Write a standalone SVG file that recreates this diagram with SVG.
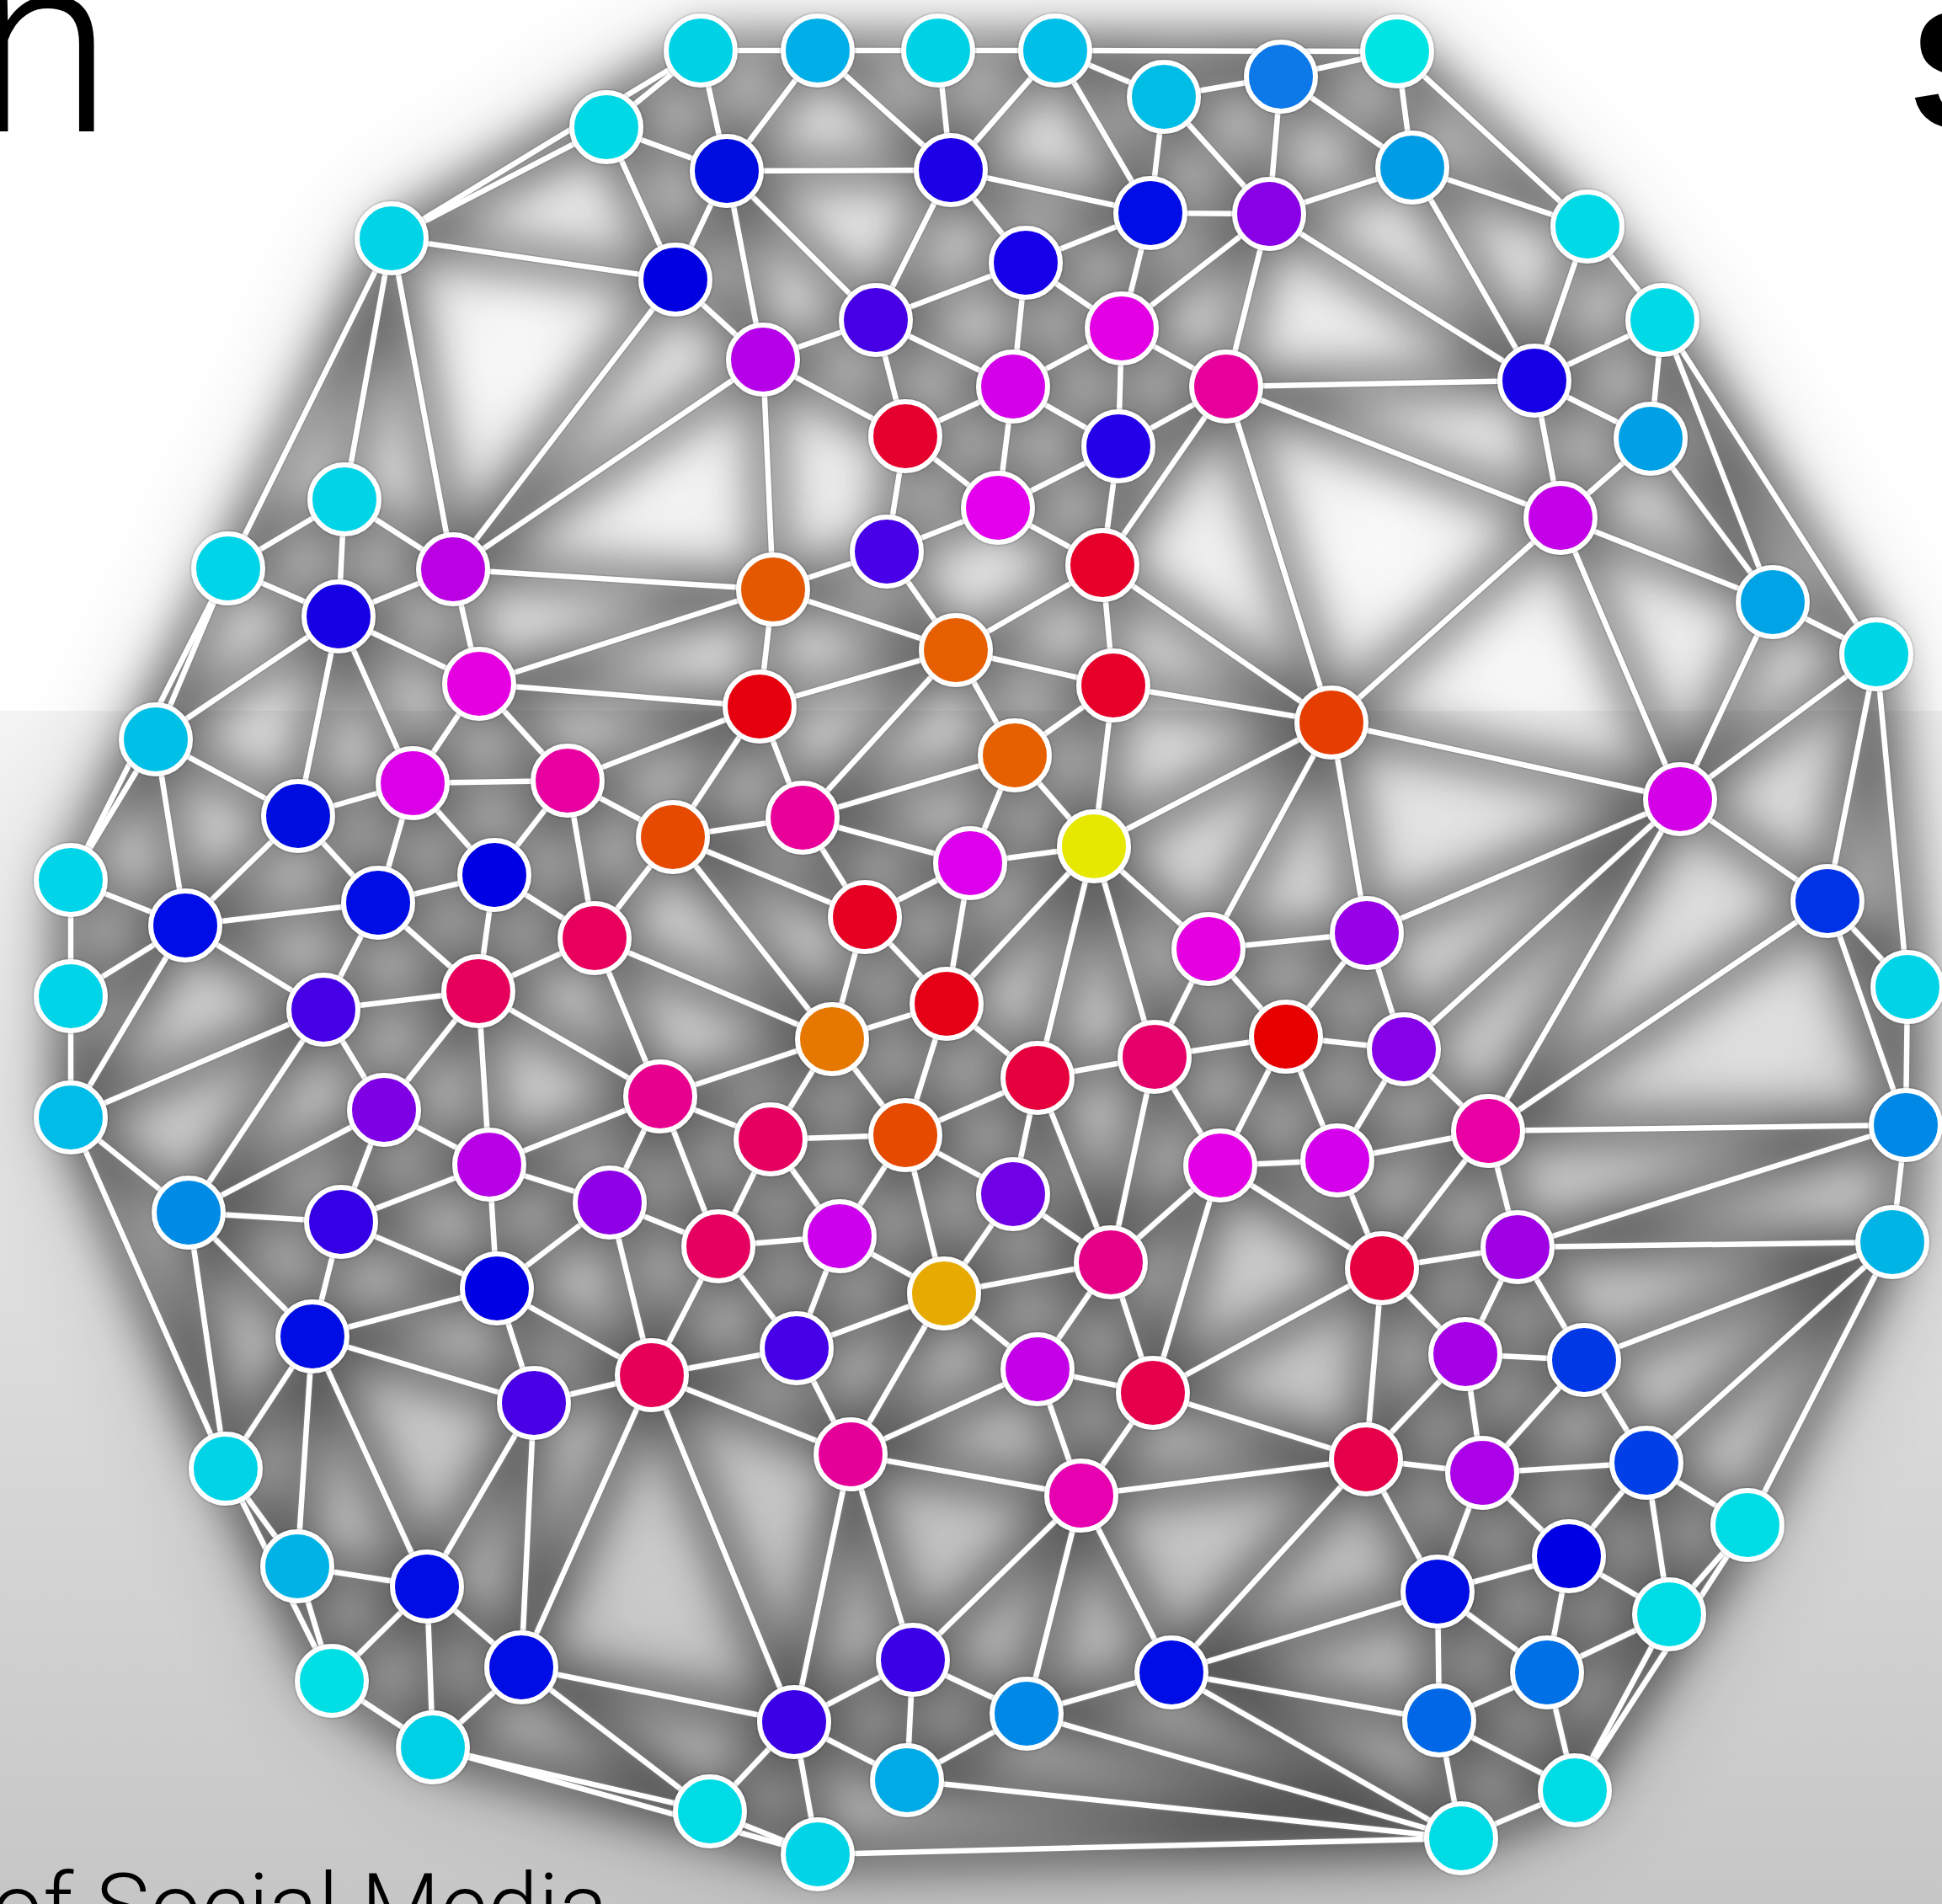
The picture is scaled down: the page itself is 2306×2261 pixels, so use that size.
<svg xmlns="http://www.w3.org/2000/svg" xmlns:xlink="http://www.w3.org/1999/xlink" width="2306" height="2261" viewBox="0 0 2306 2261">
<style>
.title{font-family:"Roboto","Liberation Sans",Arial,sans-serif;font-weight:300;fill:#000}
.titleb{font-family:"Liberation Sans",Arial,sans-serif;font-weight:bold;fill:#000}
.node circle{stroke:#ffffff;stroke-width:6}
</style>
<defs>
<linearGradient id="bg" gradientUnits="userSpaceOnUse" x1="0" y1="844" x2="0" y2="2261">
<stop offset="0" stop-color="#f4f4f4"/>
<stop offset="1" stop-color="#c6c6c6"/>
</linearGradient>
<filter id="blurA" filterUnits="userSpaceOnUse" x="-300" y="-300" width="2906" height="2861"><feGaussianBlur stdDeviation="26"/></filter>
<filter id="blurB" filterUnits="userSpaceOnUse" x="-300" y="-300" width="2906" height="2861"><feGaussianBlur stdDeviation="60"/></filter>
<filter id="ring" x="-20%" y="-20%" width="140%" height="140%">
<feGaussianBlur in="SourceAlpha" stdDeviation="1.6" result="b"/>
<feFlood flood-color="#000" flood-opacity="0.45"/>
<feComposite in2="b" operator="in" result="s"/>
<feMerge><feMergeNode in="s"/><feMergeNode in="SourceGraphic"/></feMerge>
</filter>
</defs>
<rect x="0" y="0" width="2306" height="2261" fill="#ffffff"/>
<rect x="0" y="844" width="2306" height="1417" fill="url(#bg)"/>
<text class="title" x="-31" y="156" font-size="300">n</text>
<text class="titleb" x="2268" y="152" font-size="200">S</text>
<text class="title" x="-10" y="2301" font-size="108" textLength="732" lengthAdjust="spacingAndGlyphs">of Social Media</text>
<g id="shading">
<g filter="url(#blurB)" opacity="0.22" stroke="#000" stroke-width="40" stroke-linecap="round"><use xlink:href="#connectors" href="#connectors"/></g>
<g filter="url(#blurA)" opacity="0.5" stroke="#000" stroke-width="40" stroke-linecap="round"><use xlink:href="#connectors" href="#connectors"/></g>
</g>
<g stroke="#808080" stroke-width="9.5" opacity="0.45" stroke-linecap="round"><use xlink:href="#connectors" href="#connectors"/></g>
<g stroke="#ffffff" stroke-width="6.5" stroke-linecap="round">
<g id="connectors">
<line x1="832" y1="60" x2="971" y2="60"/>
<line x1="971" y1="60" x2="1114" y2="60"/>
<line x1="1114" y1="60" x2="1253" y2="60"/>
<line x1="1253" y1="60" x2="1659" y2="61"/>
<line x1="1253" y1="60" x2="1382" y2="115"/>
<line x1="1521" y1="91" x2="1382" y2="115"/>
<line x1="1659" y1="61" x2="1521" y2="91"/>
<line x1="832" y1="60" x2="720" y2="151"/>
<line x1="720" y1="151" x2="863" y2="203"/>
<line x1="832" y1="60" x2="863" y2="203"/>
<line x1="971" y1="60" x2="863" y2="203"/>
<line x1="971" y1="60" x2="1129" y2="202"/>
<line x1="1114" y1="60" x2="1129" y2="202"/>
<line x1="1253" y1="60" x2="1129" y2="202"/>
<line x1="1253" y1="60" x2="1366" y2="253"/>
<line x1="1382" y1="115" x2="1366" y2="253"/>
<line x1="1382" y1="115" x2="1507" y2="254"/>
<line x1="1521" y1="91" x2="1507" y2="254"/>
<line x1="1366" y1="253" x2="1507" y2="254"/>
<line x1="863" y1="203" x2="1129" y2="202"/>
<line x1="1129" y1="202" x2="1366" y2="253"/>
<line x1="863" y1="203" x2="802" y2="332"/>
<line x1="720" y1="151" x2="802" y2="332"/>
<line x1="465" y1="283" x2="802" y2="332"/>
<line x1="720" y1="151" x2="465" y2="283"/>
<line x1="832" y1="60" x2="465" y2="283"/>
<line x1="863" y1="203" x2="906" y2="427"/>
<line x1="863" y1="203" x2="1040" y2="380"/>
<line x1="1129" y1="202" x2="1040" y2="380"/>
<line x1="1129" y1="202" x2="1218" y2="312"/>
<line x1="1366" y1="253" x2="1218" y2="312"/>
<line x1="1218" y1="312" x2="1040" y2="380"/>
<line x1="802" y1="332" x2="906" y2="427"/>
<line x1="1040" y1="380" x2="906" y2="427"/>
<line x1="1218" y1="312" x2="1203" y2="459"/>
<line x1="1218" y1="312" x2="1332" y2="390"/>
<line x1="1366" y1="253" x2="1332" y2="390"/>
<line x1="1507" y1="254" x2="1332" y2="390"/>
<line x1="1507" y1="254" x2="1456" y2="459"/>
<line x1="1332" y1="390" x2="1456" y2="459"/>
<line x1="1332" y1="390" x2="1203" y2="459"/>
<line x1="1040" y1="380" x2="1075" y2="518"/>
<line x1="1040" y1="380" x2="1203" y2="459"/>
<line x1="906" y1="427" x2="1075" y2="518"/>
<line x1="1203" y1="459" x2="1075" y2="518"/>
<line x1="1332" y1="390" x2="1328" y2="530"/>
<line x1="1203" y1="459" x2="1328" y2="530"/>
<line x1="1456" y1="459" x2="1328" y2="530"/>
<line x1="1203" y1="459" x2="1185" y2="603"/>
<line x1="1075" y1="518" x2="1185" y2="603"/>
<line x1="1328" y1="530" x2="1185" y2="603"/>
<line x1="1075" y1="518" x2="1053" y2="655"/>
<line x1="1185" y1="603" x2="1053" y2="655"/>
<line x1="1328" y1="530" x2="1309" y2="671"/>
<line x1="1185" y1="603" x2="1309" y2="671"/>
<line x1="1456" y1="459" x2="1309" y2="671"/>
<line x1="1456" y1="459" x2="1581" y2="858"/>
<line x1="1456" y1="459" x2="1822" y2="452"/>
<line x1="1456" y1="459" x2="1853" y2="615"/>
<line x1="906" y1="427" x2="918" y2="700"/>
<line x1="906" y1="427" x2="538" y2="676"/>
<line x1="802" y1="332" x2="538" y2="676"/>
<line x1="538" y1="676" x2="918" y2="700"/>
<line x1="918" y1="700" x2="569" y2="812"/>
<line x1="465" y1="283" x2="538" y2="676"/>
<line x1="465" y1="283" x2="409" y2="593"/>
<line x1="465" y1="283" x2="271" y2="675"/>
<line x1="409" y1="593" x2="271" y2="675"/>
<line x1="409" y1="593" x2="402" y2="732"/>
<line x1="409" y1="593" x2="538" y2="676"/>
<line x1="271" y1="675" x2="402" y2="732"/>
<line x1="538" y1="676" x2="402" y2="732"/>
<line x1="538" y1="676" x2="569" y2="812"/>
<line x1="402" y1="732" x2="569" y2="812"/>
<line x1="271" y1="675" x2="185" y2="878"/>
<line x1="271" y1="675" x2="84" y2="1045"/>
<line x1="402" y1="732" x2="185" y2="878"/>
<line x1="402" y1="732" x2="354" y2="969"/>
<line x1="402" y1="732" x2="490" y2="930"/>
<line x1="569" y1="812" x2="490" y2="930"/>
<line x1="569" y1="812" x2="674" y2="927"/>
<line x1="569" y1="812" x2="902" y2="839"/>
<line x1="185" y1="878" x2="354" y2="969"/>
<line x1="185" y1="878" x2="220" y2="1099"/>
<line x1="185" y1="878" x2="84" y2="1045"/>
<line x1="490" y1="930" x2="354" y2="969"/>
<line x1="490" y1="930" x2="587" y2="1039"/>
<line x1="490" y1="930" x2="449" y2="1072"/>
<line x1="490" y1="930" x2="674" y2="927"/>
<line x1="674" y1="927" x2="587" y2="1039"/>
<line x1="674" y1="927" x2="799" y2="994"/>
<line x1="674" y1="927" x2="706" y2="1114"/>
<line x1="354" y1="969" x2="220" y2="1099"/>
<line x1="354" y1="969" x2="449" y2="1072"/>
<line x1="84" y1="1045" x2="220" y2="1099"/>
<line x1="84" y1="1045" x2="84" y2="1183"/>
<line x1="587" y1="1039" x2="449" y2="1072"/>
<line x1="587" y1="1039" x2="706" y2="1114"/>
<line x1="587" y1="1039" x2="568" y2="1177"/>
<line x1="449" y1="1072" x2="568" y2="1177"/>
<line x1="449" y1="1072" x2="384" y2="1199"/>
<line x1="449" y1="1072" x2="220" y2="1099"/>
<line x1="220" y1="1099" x2="384" y2="1199"/>
<line x1="220" y1="1099" x2="84" y2="1183"/>
<line x1="220" y1="1099" x2="84" y2="1327"/>
<line x1="799" y1="994" x2="706" y2="1114"/>
<line x1="706" y1="1114" x2="568" y2="1177"/>
<line x1="706" y1="1114" x2="784" y2="1302"/>
<line x1="568" y1="1177" x2="384" y2="1199"/>
<line x1="568" y1="1177" x2="456" y2="1318"/>
<line x1="568" y1="1177" x2="581" y2="1383"/>
<line x1="568" y1="1177" x2="784" y2="1302"/>
<line x1="84" y1="1183" x2="84" y2="1327"/>
<line x1="384" y1="1199" x2="84" y2="1327"/>
<line x1="384" y1="1199" x2="456" y2="1318"/>
<line x1="384" y1="1199" x2="224" y2="1440"/>
<line x1="456" y1="1318" x2="581" y2="1383"/>
<line x1="456" y1="1318" x2="224" y2="1440"/>
<line x1="456" y1="1318" x2="405" y2="1451"/>
<line x1="84" y1="1327" x2="224" y2="1440"/>
<line x1="84" y1="1327" x2="268" y2="1744"/>
<line x1="784" y1="1302" x2="581" y2="1383"/>
<line x1="784" y1="1302" x2="724" y2="1428"/>
<line x1="581" y1="1383" x2="724" y2="1428"/>
<line x1="581" y1="1383" x2="405" y2="1451"/>
<line x1="581" y1="1383" x2="590" y2="1530"/>
<line x1="224" y1="1440" x2="405" y2="1451"/>
<line x1="224" y1="1440" x2="371" y2="1587"/>
<line x1="224" y1="1440" x2="268" y2="1744"/>
<line x1="405" y1="1451" x2="590" y2="1530"/>
<line x1="405" y1="1451" x2="371" y2="1587"/>
<line x1="724" y1="1428" x2="590" y2="1530"/>
<line x1="724" y1="1428" x2="774" y2="1633"/>
<line x1="724" y1="1428" x2="853" y2="1480"/>
<line x1="784" y1="1302" x2="915" y2="1353"/>
<line x1="918" y1="700" x2="902" y2="839"/>
<line x1="1135" y1="772" x2="902" y2="839"/>
<line x1="902" y1="839" x2="674" y2="927"/>
<line x1="902" y1="839" x2="799" y2="994"/>
<line x1="902" y1="839" x2="953" y2="971"/>
<line x1="1135" y1="772" x2="1322" y2="814"/>
<line x1="1135" y1="772" x2="1205" y2="897"/>
<line x1="1135" y1="772" x2="953" y2="971"/>
<line x1="1053" y1="655" x2="1135" y2="772"/>
<line x1="918" y1="700" x2="1135" y2="772"/>
<line x1="1309" y1="671" x2="1135" y2="772"/>
<line x1="1309" y1="671" x2="1322" y2="814"/>
<line x1="1322" y1="814" x2="1581" y2="858"/>
<line x1="1322" y1="814" x2="1205" y2="897"/>
<line x1="1322" y1="814" x2="1299" y2="1005"/>
<line x1="1205" y1="897" x2="953" y2="971"/>
<line x1="1205" y1="897" x2="1152" y2="1025"/>
<line x1="1205" y1="897" x2="1299" y2="1005"/>
<line x1="799" y1="994" x2="953" y2="971"/>
<line x1="953" y1="971" x2="1152" y2="1025"/>
<line x1="953" y1="971" x2="1027" y2="1089"/>
<line x1="799" y1="994" x2="988" y2="1234"/>
<line x1="706" y1="1114" x2="988" y2="1234"/>
<line x1="799" y1="994" x2="1027" y2="1089"/>
<line x1="1299" y1="1005" x2="1152" y2="1025"/>
<line x1="1152" y1="1025" x2="1027" y2="1089"/>
<line x1="1152" y1="1025" x2="1124" y2="1192"/>
<line x1="1299" y1="1005" x2="1124" y2="1192"/>
<line x1="1299" y1="1005" x2="1232" y2="1280"/>
<line x1="1299" y1="1005" x2="1371" y2="1255"/>
<line x1="1299" y1="1005" x2="1435" y2="1127"/>
<line x1="1581" y1="858" x2="1299" y2="1005"/>
<line x1="1027" y1="1089" x2="1124" y2="1192"/>
<line x1="1027" y1="1089" x2="988" y2="1234"/>
<line x1="1124" y1="1192" x2="988" y2="1234"/>
<line x1="1124" y1="1192" x2="1232" y2="1280"/>
<line x1="1124" y1="1192" x2="1075" y2="1348"/>
<line x1="988" y1="1234" x2="784" y2="1302"/>
<line x1="988" y1="1234" x2="915" y2="1353"/>
<line x1="988" y1="1234" x2="1075" y2="1348"/>
<line x1="1581" y1="858" x2="1435" y2="1127"/>
<line x1="1435" y1="1127" x2="1371" y2="1255"/>
<line x1="1435" y1="1127" x2="1527" y2="1231"/>
<line x1="1435" y1="1127" x2="1623" y2="1108"/>
<line x1="1527" y1="1231" x2="1371" y2="1255"/>
<line x1="1527" y1="1231" x2="1449" y2="1384"/>
<line x1="1371" y1="1255" x2="1232" y2="1280"/>
<line x1="1371" y1="1255" x2="1449" y2="1384"/>
<line x1="1371" y1="1255" x2="1319" y2="1499"/>
<line x1="1232" y1="1280" x2="1075" y2="1348"/>
<line x1="1232" y1="1280" x2="1203" y2="1418"/>
<line x1="1232" y1="1280" x2="1319" y2="1499"/>
<line x1="784" y1="1302" x2="853" y2="1480"/>
<line x1="915" y1="1353" x2="1075" y2="1348"/>
<line x1="915" y1="1353" x2="853" y2="1480"/>
<line x1="915" y1="1353" x2="997" y2="1468"/>
<line x1="1075" y1="1348" x2="1203" y2="1418"/>
<line x1="1075" y1="1348" x2="997" y2="1468"/>
<line x1="1075" y1="1348" x2="1121" y2="1536"/>
<line x1="1449" y1="1384" x2="1319" y2="1499"/>
<line x1="1449" y1="1384" x2="1588" y2="1378"/>
<line x1="1449" y1="1384" x2="1641" y2="1506"/>
<line x1="1203" y1="1418" x2="1319" y2="1499"/>
<line x1="1203" y1="1418" x2="1121" y2="1536"/>
<line x1="853" y1="1480" x2="997" y2="1468"/>
<line x1="853" y1="1480" x2="774" y2="1633"/>
<line x1="853" y1="1480" x2="946" y2="1601"/>
<line x1="997" y1="1468" x2="1121" y2="1536"/>
<line x1="997" y1="1468" x2="946" y2="1601"/>
<line x1="1319" y1="1499" x2="1121" y2="1536"/>
<line x1="1053" y1="655" x2="918" y2="700"/>
<line x1="1309" y1="671" x2="1581" y2="858"/>
<line x1="1853" y1="615" x2="1581" y2="858"/>
<line x1="1581" y1="858" x2="1995" y2="949"/>
<line x1="1581" y1="858" x2="1623" y2="1108"/>
<line x1="1853" y1="615" x2="1995" y2="949"/>
<line x1="2105" y1="715" x2="1995" y2="949"/>
<line x1="2228" y1="777" x2="1995" y2="949"/>
<line x1="1995" y1="949" x2="2170" y2="1070"/>
<line x1="1995" y1="949" x2="1623" y2="1108"/>
<line x1="1995" y1="949" x2="1667" y2="1246"/>
<line x1="1995" y1="949" x2="1767" y2="1343"/>
<line x1="2170" y1="1070" x2="1767" y2="1343"/>
<line x1="2170" y1="1070" x2="2265" y2="1172"/>
<line x1="2170" y1="1070" x2="2263" y2="1336"/>
<line x1="2228" y1="777" x2="2265" y2="1172"/>
<line x1="2228" y1="777" x2="2170" y2="1070"/>
<line x1="2265" y1="1172" x2="2263" y2="1336"/>
<line x1="1623" y1="1108" x2="1527" y2="1231"/>
<line x1="1623" y1="1108" x2="1667" y2="1246"/>
<line x1="1527" y1="1231" x2="1667" y2="1246"/>
<line x1="1527" y1="1231" x2="1588" y2="1378"/>
<line x1="1667" y1="1246" x2="1588" y2="1378"/>
<line x1="1667" y1="1246" x2="1767" y2="1343"/>
<line x1="1767" y1="1343" x2="2263" y2="1336"/>
<line x1="1767" y1="1343" x2="1588" y2="1378"/>
<line x1="1767" y1="1343" x2="1802" y2="1481"/>
<line x1="1767" y1="1343" x2="1641" y2="1506"/>
<line x1="1588" y1="1378" x2="1641" y2="1506"/>
<line x1="2263" y1="1336" x2="1802" y2="1481"/>
<line x1="1802" y1="1481" x2="2247" y2="1475"/>
<line x1="2263" y1="1336" x2="2247" y2="1475"/>
<line x1="1802" y1="1481" x2="1641" y2="1506"/>
<line x1="1521" y1="91" x2="1677" y2="199"/>
<line x1="1659" y1="61" x2="1677" y2="199"/>
<line x1="1659" y1="61" x2="1885" y2="269"/>
<line x1="1677" y1="199" x2="1507" y2="254"/>
<line x1="1677" y1="199" x2="1885" y2="269"/>
<line x1="1677" y1="199" x2="1822" y2="452"/>
<line x1="1507" y1="254" x2="1822" y2="452"/>
<line x1="1885" y1="269" x2="1822" y2="452"/>
<line x1="1885" y1="269" x2="1974" y2="380"/>
<line x1="1974" y1="380" x2="1822" y2="452"/>
<line x1="1822" y1="452" x2="1960" y2="521"/>
<line x1="1974" y1="380" x2="1960" y2="521"/>
<line x1="1822" y1="452" x2="1853" y2="615"/>
<line x1="1960" y1="521" x2="1853" y2="615"/>
<line x1="1960" y1="521" x2="2105" y2="715"/>
<line x1="1974" y1="380" x2="2105" y2="715"/>
<line x1="1974" y1="380" x2="2228" y2="777"/>
<line x1="1853" y1="615" x2="2105" y2="715"/>
<line x1="2105" y1="715" x2="2228" y2="777"/>
<line x1="590" y1="1530" x2="371" y2="1587"/>
<line x1="371" y1="1587" x2="634" y2="1666"/>
<line x1="371" y1="1587" x2="268" y2="1744"/>
<line x1="371" y1="1587" x2="353" y2="1860"/>
<line x1="371" y1="1587" x2="507" y2="1884"/>
<line x1="590" y1="1530" x2="634" y2="1666"/>
<line x1="590" y1="1530" x2="774" y2="1633"/>
<line x1="774" y1="1633" x2="634" y2="1666"/>
<line x1="634" y1="1666" x2="507" y2="1884"/>
<line x1="634" y1="1666" x2="619" y2="1980"/>
<line x1="774" y1="1633" x2="619" y2="1980"/>
<line x1="268" y1="1744" x2="353" y2="1860"/>
<line x1="353" y1="1860" x2="507" y2="1884"/>
<line x1="353" y1="1860" x2="394" y2="1996"/>
<line x1="268" y1="1744" x2="394" y2="1996"/>
<line x1="507" y1="1884" x2="394" y2="1996"/>
<line x1="507" y1="1884" x2="514" y2="2075"/>
<line x1="507" y1="1884" x2="619" y2="1980"/>
<line x1="394" y1="1996" x2="514" y2="2075"/>
<line x1="619" y1="1980" x2="514" y2="2075"/>
<line x1="619" y1="1980" x2="943" y2="2045"/>
<line x1="619" y1="1980" x2="843" y2="2151"/>
<line x1="514" y1="2075" x2="843" y2="2151"/>
<line x1="514" y1="2075" x2="971" y2="2202"/>
<line x1="843" y1="2151" x2="971" y2="2202"/>
<line x1="946" y1="1601" x2="774" y2="1633"/>
<line x1="774" y1="1633" x2="1010" y2="1727"/>
<line x1="774" y1="1633" x2="943" y2="2045"/>
<line x1="1121" y1="1536" x2="946" y2="1601"/>
<line x1="946" y1="1601" x2="1010" y2="1727"/>
<line x1="1121" y1="1536" x2="1010" y2="1727"/>
<line x1="1121" y1="1536" x2="1232" y2="1626"/>
<line x1="1319" y1="1499" x2="1232" y2="1626"/>
<line x1="1319" y1="1499" x2="1369" y2="1654"/>
<line x1="1449" y1="1384" x2="1369" y2="1654"/>
<line x1="1232" y1="1626" x2="1369" y2="1654"/>
<line x1="1232" y1="1626" x2="1010" y2="1727"/>
<line x1="1232" y1="1626" x2="1284" y2="1776"/>
<line x1="1369" y1="1654" x2="1284" y2="1776"/>
<line x1="1641" y1="1506" x2="1369" y2="1654"/>
<line x1="1369" y1="1654" x2="1622" y2="1733"/>
<line x1="1010" y1="1727" x2="1284" y2="1776"/>
<line x1="1010" y1="1727" x2="1084" y2="1971"/>
<line x1="1010" y1="1727" x2="943" y2="2045"/>
<line x1="1284" y1="1776" x2="1084" y2="1971"/>
<line x1="1284" y1="1776" x2="1219" y2="2035"/>
<line x1="1284" y1="1776" x2="1391" y2="1986"/>
<line x1="1622" y1="1733" x2="1284" y2="1776"/>
<line x1="1622" y1="1733" x2="1391" y2="1986"/>
<line x1="1707" y1="1890" x2="1391" y2="1986"/>
<line x1="1391" y1="1986" x2="1709" y2="2043"/>
<line x1="1391" y1="1986" x2="1735" y2="2183"/>
<line x1="1391" y1="1986" x2="1219" y2="2035"/>
<line x1="1084" y1="1971" x2="1219" y2="2035"/>
<line x1="1219" y1="2035" x2="1077" y2="2114"/>
<line x1="1219" y1="2035" x2="1735" y2="2183"/>
<line x1="1077" y1="2114" x2="1735" y2="2183"/>
<line x1="971" y1="2202" x2="1735" y2="2183"/>
<line x1="1084" y1="1971" x2="943" y2="2045"/>
<line x1="1084" y1="1971" x2="1077" y2="2114"/>
<line x1="943" y1="2045" x2="1077" y2="2114"/>
<line x1="943" y1="2045" x2="971" y2="2202"/>
<line x1="943" y1="2045" x2="843" y2="2151"/>
<line x1="1641" y1="1506" x2="1740" y2="1608"/>
<line x1="1802" y1="1481" x2="1740" y2="1608"/>
<line x1="1802" y1="1481" x2="1881" y2="1615"/>
<line x1="1641" y1="1506" x2="1622" y2="1733"/>
<line x1="1740" y1="1608" x2="1881" y2="1615"/>
<line x1="1740" y1="1608" x2="1622" y2="1733"/>
<line x1="1740" y1="1608" x2="1760" y2="1749"/>
<line x1="2247" y1="1475" x2="1881" y2="1615"/>
<line x1="1881" y1="1615" x2="1955" y2="1737"/>
<line x1="1881" y1="1615" x2="1760" y2="1749"/>
<line x1="2247" y1="1475" x2="1955" y2="1737"/>
<line x1="2247" y1="1475" x2="2075" y2="1811"/>
<line x1="1622" y1="1733" x2="1760" y2="1749"/>
<line x1="1622" y1="1733" x2="1707" y2="1890"/>
<line x1="1760" y1="1749" x2="1955" y2="1737"/>
<line x1="1760" y1="1749" x2="1863" y2="1848"/>
<line x1="1760" y1="1749" x2="1707" y2="1890"/>
<line x1="1955" y1="1737" x2="1863" y2="1848"/>
<line x1="1955" y1="1737" x2="1982" y2="1917"/>
<line x1="1955" y1="1737" x2="2075" y2="1811"/>
<line x1="2075" y1="1811" x2="1982" y2="1917"/>
<line x1="1863" y1="1848" x2="1707" y2="1890"/>
<line x1="1863" y1="1848" x2="1982" y2="1917"/>
<line x1="1863" y1="1848" x2="1837" y2="1986"/>
<line x1="1707" y1="1890" x2="1709" y2="2043"/>
<line x1="1707" y1="1890" x2="1837" y2="1986"/>
<line x1="1982" y1="1917" x2="1837" y2="1986"/>
<line x1="1982" y1="1917" x2="1870" y2="2126"/>
<line x1="1837" y1="1986" x2="1709" y2="2043"/>
<line x1="1837" y1="1986" x2="1870" y2="2126"/>
<line x1="1709" y1="2043" x2="1870" y2="2126"/>
<line x1="1709" y1="2043" x2="1735" y2="2183"/>
<line x1="1870" y1="2126" x2="1735" y2="2183"/>
<line x1="2075" y1="1811" x2="1870" y2="2126"/>
</g>
</g>
<g id="nodes" filter="url(#ring)">
<g id="n1" class="node"><circle cx="832" cy="60" r="41" fill="#00d2e6"/></g>
<g id="n2" class="node"><circle cx="971" cy="60" r="41" fill="#00aee8"/></g>
<g id="n3" class="node"><circle cx="1114" cy="60" r="41" fill="#00d2e6"/></g>
<g id="n4" class="node"><circle cx="1253" cy="60" r="41" fill="#00bfe8"/></g>
<g id="n5" class="node"><circle cx="1659" cy="61" r="41" fill="#00e4e4"/></g>
<g id="n6" class="node"><circle cx="1521" cy="91" r="41" fill="#0a78e8"/></g>
<g id="n7" class="node"><circle cx="1382" cy="115" r="41" fill="#00bde6"/></g>
<g id="n8" class="node"><circle cx="720" cy="151" r="41" fill="#00d8e6"/></g>
<g id="n9" class="node"><circle cx="863" cy="203" r="41" fill="#0008e0"/></g>
<g id="n10" class="node"><circle cx="1129" cy="202" r="41" fill="#1a00e6"/></g>
<g id="n11" class="node"><circle cx="1677" cy="199" r="41" fill="#009ce6"/></g>
<g id="n12" class="node"><circle cx="465" cy="283" r="41" fill="#00d4e6"/></g>
<g id="n13" class="node"><circle cx="1366" cy="253" r="41" fill="#0008e6"/></g>
<g id="n14" class="node"><circle cx="1507" cy="254" r="41" fill="#8a00e6"/></g>
<g id="n15" class="node"><circle cx="1885" cy="269" r="41" fill="#00dae6"/></g>
<g id="n16" class="node"><circle cx="802" cy="332" r="41" fill="#0000e0"/></g>
<g id="n17" class="node"><circle cx="1218" cy="312" r="41" fill="#1600e8"/></g>
<g id="n18" class="node"><circle cx="1974" cy="380" r="41" fill="#00dae6"/></g>
<g id="n19" class="node"><circle cx="1040" cy="380" r="41" fill="#4600e6"/></g>
<g id="n20" class="node"><circle cx="906" cy="427" r="41" fill="#b600e8"/></g>
<g id="n21" class="node"><circle cx="1332" cy="390" r="41" fill="#e400e4"/></g>
<g id="n22" class="node"><circle cx="1203" cy="459" r="41" fill="#d400ea"/></g>
<g id="n23" class="node"><circle cx="1456" cy="459" r="41" fill="#e8009c"/></g>
<g id="n24" class="node"><circle cx="1822" cy="452" r="41" fill="#1200e6"/></g>
<g id="n25" class="node"><circle cx="1075" cy="518" r="41" fill="#e6002e"/></g>
<g id="n26" class="node"><circle cx="1328" cy="530" r="41" fill="#2200e8"/></g>
<g id="n27" class="node"><circle cx="1960" cy="521" r="41" fill="#00a0e6"/></g>
<g id="n28" class="node"><circle cx="1185" cy="603" r="41" fill="#e400ec"/></g>
<g id="n29" class="node"><circle cx="409" cy="593" r="41" fill="#00d4e6"/></g>
<g id="n30" class="node"><circle cx="1053" cy="655" r="41" fill="#4600e8"/></g>
<g id="n31" class="node"><circle cx="1309" cy="671" r="41" fill="#e6002c"/></g>
<g id="n32" class="node"><circle cx="1853" cy="615" r="41" fill="#c400e8"/></g>
<g id="n33" class="node"><circle cx="271" cy="675" r="41" fill="#00d4e8"/></g>
<g id="n34" class="node"><circle cx="538" cy="676" r="41" fill="#bc00e4"/></g>
<g id="n35" class="node"><circle cx="918" cy="700" r="41" fill="#e45800"/></g>
<g id="n36" class="node"><circle cx="402" cy="732" r="41" fill="#1400e4"/></g>
<g id="n37" class="node"><circle cx="1135" cy="772" r="41" fill="#e65e00"/></g>
<g id="n38" class="node"><circle cx="2105" cy="715" r="41" fill="#00a4e6"/></g>
<g id="n39" class="node"><circle cx="2228" cy="777" r="41" fill="#00d6e6"/></g>
<g id="n40" class="node"><circle cx="569" cy="812" r="41" fill="#e400e0"/></g>
<g id="n41" class="node"><circle cx="1322" cy="814" r="41" fill="#e6002a"/></g>
<g id="n42" class="node"><circle cx="902" cy="839" r="41" fill="#e60008"/></g>
<g id="n43" class="node"><circle cx="1581" cy="858" r="41" fill="#e63c00"/></g>
<g id="n44" class="node"><circle cx="185" cy="878" r="41" fill="#00c0e8"/></g>
<g id="n45" class="node"><circle cx="1205" cy="897" r="41" fill="#e66000"/></g>
<g id="n46" class="node"><circle cx="490" cy="930" r="41" fill="#dc00e8"/></g>
<g id="n47" class="node"><circle cx="674" cy="927" r="41" fill="#e800a0"/></g>
<g id="n48" class="node"><circle cx="354" cy="969" r="41" fill="#0010e0"/></g>
<g id="n49" class="node"><circle cx="1995" cy="949" r="41" fill="#d400e8"/></g>
<g id="n50" class="node"><circle cx="799" cy="994" r="41" fill="#e64800"/></g>
<g id="n51" class="node"><circle cx="953" cy="971" r="41" fill="#e80098"/></g>
<g id="n52" class="node"><circle cx="1299" cy="1005" r="41" fill="#e6e800"/></g>
<g id="n53" class="node"><circle cx="1152" cy="1025" r="41" fill="#dc00ec"/></g>
<g id="n54" class="node"><circle cx="84" cy="1045" r="41" fill="#00d4e8"/></g>
<g id="n55" class="node"><circle cx="587" cy="1039" r="41" fill="#0000e4"/></g>
<g id="n56" class="node"><circle cx="449" cy="1072" r="41" fill="#0008e4"/></g>
<g id="n57" class="node"><circle cx="220" cy="1099" r="41" fill="#0008e6"/></g>
<g id="n58" class="node"><circle cx="1027" cy="1089" r="41" fill="#e60024"/></g>
<g id="n59" class="node"><circle cx="2170" cy="1070" r="41" fill="#0030e6"/></g>
<g id="n60" class="node"><circle cx="706" cy="1114" r="41" fill="#e8005c"/></g>
<g id="n61" class="node"><circle cx="1435" cy="1127" r="41" fill="#e400e0"/></g>
<g id="n62" class="node"><circle cx="1623" cy="1108" r="41" fill="#9800e8"/></g>
<g id="n63" class="node"><circle cx="84" cy="1183" r="41" fill="#00d4e8"/></g>
<g id="n64" class="node"><circle cx="568" cy="1177" r="41" fill="#e6005c"/></g>
<g id="n65" class="node"><circle cx="384" cy="1199" r="41" fill="#4400e6"/></g>
<g id="n66" class="node"><circle cx="1124" cy="1192" r="41" fill="#e60018"/></g>
<g id="n67" class="node"><circle cx="2265" cy="1172" r="41" fill="#00d4e6"/></g>
<g id="n68" class="node"><circle cx="1527" cy="1231" r="41" fill="#e60000"/></g>
<g id="n69" class="node"><circle cx="988" cy="1234" r="41" fill="#e67800"/></g>
<g id="n70" class="node"><circle cx="1371" cy="1255" r="41" fill="#e6006a"/></g>
<g id="n71" class="node"><circle cx="1232" cy="1280" r="41" fill="#e6003c"/></g>
<g id="n72" class="node"><circle cx="1667" cy="1246" r="41" fill="#8600e8"/></g>
<g id="n73" class="node"><circle cx="84" cy="1327" r="41" fill="#00bce8"/></g>
<g id="n74" class="node"><circle cx="456" cy="1318" r="41" fill="#8000e6"/></g>
<g id="n75" class="node"><circle cx="784" cy="1302" r="41" fill="#e8008e"/></g>
<g id="n76" class="node"><circle cx="1767" cy="1343" r="41" fill="#e800a4"/></g>
<g id="n77" class="node"><circle cx="2263" cy="1336" r="41" fill="#0088e6"/></g>
<g id="n78" class="node"><circle cx="915" cy="1353" r="41" fill="#e60060"/></g>
<g id="n79" class="node"><circle cx="1075" cy="1348" r="41" fill="#e64800"/></g>
<g id="n80" class="node"><circle cx="581" cy="1383" r="41" fill="#b800e6"/></g>
<g id="n81" class="node"><circle cx="1449" cy="1384" r="41" fill="#e400e4"/></g>
<g id="n82" class="node"><circle cx="1588" cy="1378" r="41" fill="#d400ec"/></g>
<g id="n83" class="node"><circle cx="724" cy="1428" r="41" fill="#9000e6"/></g>
<g id="n84" class="node"><circle cx="1203" cy="1418" r="41" fill="#7000e6"/></g>
<g id="n85" class="node"><circle cx="224" cy="1440" r="41" fill="#008ce6"/></g>
<g id="n86" class="node"><circle cx="405" cy="1451" r="41" fill="#3400e6"/></g>
<g id="n87" class="node"><circle cx="1802" cy="1481" r="41" fill="#a000e4"/></g>
<g id="n88" class="node"><circle cx="853" cy="1480" r="41" fill="#e60060"/></g>
<g id="n89" class="node"><circle cx="997" cy="1468" r="41" fill="#cc00ec"/></g>
<g id="n90" class="node"><circle cx="1319" cy="1499" r="41" fill="#e60088"/></g>
<g id="n91" class="node"><circle cx="1641" cy="1506" r="41" fill="#e60040"/></g>
<g id="n92" class="node"><circle cx="2247" cy="1475" r="41" fill="#00b4e6"/></g>
<g id="n93" class="node"><circle cx="590" cy="1530" r="41" fill="#0000e4"/></g>
<g id="n94" class="node"><circle cx="1121" cy="1536" r="41" fill="#e6aa00"/></g>
<g id="n95" class="node"><circle cx="371" cy="1587" r="41" fill="#0010e4"/></g>
<g id="n96" class="node"><circle cx="946" cy="1601" r="41" fill="#4400e8"/></g>
<g id="n97" class="node"><circle cx="1740" cy="1608" r="41" fill="#a800e6"/></g>
<g id="n98" class="node"><circle cx="1881" cy="1615" r="41" fill="#0038e6"/></g>
<g id="n99" class="node"><circle cx="774" cy="1633" r="41" fill="#e60058"/></g>
<g id="n100" class="node"><circle cx="634" cy="1666" r="41" fill="#4800e6"/></g>
<g id="n101" class="node"><circle cx="1232" cy="1626" r="41" fill="#c400e8"/></g>
<g id="n102" class="node"><circle cx="1369" cy="1654" r="41" fill="#e60048"/></g>
<g id="n103" class="node"><circle cx="268" cy="1744" r="41" fill="#00d4e6"/></g>
<g id="n104" class="node"><circle cx="1010" cy="1727" r="41" fill="#e6009a"/></g>
<g id="n105" class="node"><circle cx="1622" cy="1733" r="41" fill="#e60048"/></g>
<g id="n106" class="node"><circle cx="1760" cy="1749" r="41" fill="#ac00e8"/></g>
<g id="n107" class="node"><circle cx="1955" cy="1737" r="41" fill="#0040e6"/></g>
<g id="n108" class="node"><circle cx="1284" cy="1776" r="41" fill="#e600b0"/></g>
<g id="n109" class="node"><circle cx="2075" cy="1811" r="41" fill="#00dce6"/></g>
<g id="n110" class="node"><circle cx="353" cy="1860" r="41" fill="#00b2e6"/></g>
<g id="n111" class="node"><circle cx="507" cy="1884" r="41" fill="#0008e4"/></g>
<g id="n112" class="node"><circle cx="1863" cy="1848" r="41" fill="#0000e4"/></g>
<g id="n113" class="node"><circle cx="1707" cy="1890" r="41" fill="#0008e4"/></g>
<g id="n114" class="node"><circle cx="1982" cy="1917" r="41" fill="#00dce6"/></g>
<g id="n115" class="node"><circle cx="394" cy="1996" r="41" fill="#00e0e4"/></g>
<g id="n116" class="node"><circle cx="619" cy="1980" r="41" fill="#0008e4"/></g>
<g id="n117" class="node"><circle cx="1084" cy="1971" r="41" fill="#3a00e6"/></g>
<g id="n118" class="node"><circle cx="1391" cy="1986" r="41" fill="#0010e6"/></g>
<g id="n119" class="node"><circle cx="1837" cy="1986" r="41" fill="#0070e6"/></g>
<g id="n120" class="node"><circle cx="1219" cy="2035" r="41" fill="#0088e6"/></g>
<g id="n121" class="node"><circle cx="943" cy="2045" r="41" fill="#3a00e6"/></g>
<g id="n122" class="node"><circle cx="1709" cy="2043" r="41" fill="#0068e6"/></g>
<g id="n123" class="node"><circle cx="514" cy="2075" r="41" fill="#00d0e6"/></g>
<g id="n124" class="node"><circle cx="1077" cy="2114" r="41" fill="#00aae6"/></g>
<g id="n125" class="node"><circle cx="843" cy="2151" r="41" fill="#00dce6"/></g>
<g id="n126" class="node"><circle cx="1870" cy="2126" r="41" fill="#00dce6"/></g>
<g id="n127" class="node"><circle cx="971" cy="2202" r="41" fill="#00d4e6"/></g>
<g id="n128" class="node"><circle cx="1735" cy="2183" r="41" fill="#00dce6"/></g>
</g>
</svg>
